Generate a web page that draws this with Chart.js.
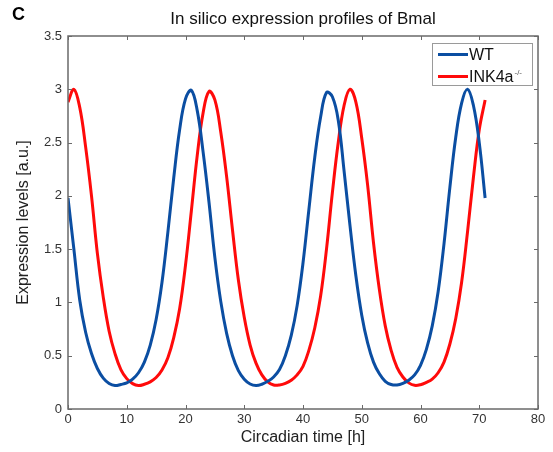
<!DOCTYPE html>
<html>
<head>
<meta charset="utf-8">
<script src="https://cdn.jsdelivr.net/npm/chart.js@4/dist/chart.umd.min.js"></script>
<style>
    html, body { margin: 0; padding: 0; background: #fff; }
    #wrap { width: 553px; height: 452px; position: relative; }
</style>
</head>
<body>
<div id="wrap"><canvas id="bmalChart"></canvas></div>
<script>
// 数据
const hours = [
    0, 1, 2, 3, 4, 5, 6, 7, 8, 9, 10, 11, 12, 13, 14, 15, 16, 17, 18, 19, 20, 21, 22, 23,
    24, 25, 26, 27, 28, 29, 30, 31, 32, 33, 34, 35, 36, 37, 38, 39, 40, 41, 42, 43, 44, 45, 46, 47,
    48, 49, 50, 51, 52, 53, 54, 55, 56, 57, 58, 59, 60, 61, 62, 63, 64, 65, 66, 67, 68, 69, 70, 71
];
const wtValues = [
    1.98, 1.50, 1.02, 0.72, 0.52, 0.38, 0.29, 0.24, 0.22, 0.23, 0.245, 0.28, 0.34, 0.44, 0.60, 0.84,
    1.19, 1.66, 2.17, 2.62, 2.91, 2.99, 2.80, 2.41, 1.94, 1.42, 1.01, 0.71, 0.50, 0.36, 0.28, 0.235,
    0.22, 0.232, 0.26, 0.30, 0.37, 0.50, 0.69, 0.97, 1.37, 1.87, 2.36, 2.74, 2.97, 2.93, 2.71, 2.23,
    1.72, 1.25, 0.88, 0.62, 0.44, 0.33, 0.26, 0.23, 0.225, 0.24, 0.27, 0.32, 0.41, 0.56, 0.78, 1.10,
    1.55, 2.08, 2.55, 2.87, 3.0, 2.85, 2.50, 1.98
];
const inkValues = [
    2.88, 3.0, 2.83, 2.46, 2.00, 1.46, 1.05, 0.73, 0.52, 0.37, 0.285, 0.238, 0.22, 0.232, 0.255, 0.295,
    0.365, 0.48, 0.67, 0.94, 1.35, 1.86, 2.38, 2.78, 2.98, 2.90, 2.60, 2.18, 1.68, 1.21, 0.86, 0.60,
    0.43, 0.32, 0.255, 0.225, 0.225, 0.24, 0.27, 0.32, 0.40, 0.55, 0.76, 1.06, 1.50, 2.03, 2.50, 2.85,
    3.0, 2.88, 2.54, 2.10, 1.56, 1.12, 0.78, 0.55, 0.39, 0.30, 0.245, 0.222, 0.228, 0.25, 0.28, 0.34,
    0.44, 0.61, 0.85, 1.19, 1.66, 2.17, 2.62, 2.90
];
const seriesNames = ['WT', 'INK4a'];
const seriesSup = ['', '-/-'];
const seriesColors = ['#0b4ea2', '#ff0a0a'];
const xTicks = [0, 10, 20, 30, 40, 50, 60, 70, 80];
const yTicks = [0, 0.5, 1, 1.5, 2, 2.5, 3, 3.5];

const FONT = '"Liberation Sans", Arial, Helvetica, sans-serif';
const AXIS_COLOR = '#6a6a6a';

function toPoints(values) {
    return hours.map((h, i) => ({ x: h, y: values[i] }));
}

// 标题、轴标题、内向刻度、边框和图例
const decorPlugin = {
    id: 'decor',
    afterDraw(chart) {
        const ctx = chart.ctx;
        const area = chart.chartArea;
        const xs = chart.scales.x;
        const ys = chart.scales.y;
        ctx.save();

        // 面板标签
        ctx.fillStyle = '#000';
        ctx.font = 'bold 18px ' + FONT;
        ctx.textAlign = 'left';
        ctx.textBaseline = 'middle';
        ctx.fillText('C', 12, 15);

        // 标题
        ctx.fillStyle = '#111';
        ctx.font = '17px ' + FONT;
        ctx.textAlign = 'center';
        ctx.fillText('In silico expression profiles of Bmal', (area.left + area.right) / 2, 19);

        // 轴标题
        ctx.fillStyle = '#222';
        ctx.font = '16px ' + FONT;
        ctx.fillText('Circadian time [h]', (area.left + area.right) / 2, 438);
        ctx.save();
        ctx.translate(24, (area.top + area.bottom) / 2);
        ctx.rotate(-Math.PI / 2);
        ctx.fillText('Expression levels [a.u.]', 0, 0);
        ctx.restore();

        // 边框
        ctx.strokeStyle = AXIS_COLOR;
        ctx.lineWidth = 1.5;
        ctx.strokeRect(area.left, area.top, area.right - area.left, area.bottom - area.top);

        // 内向刻度
        ctx.lineWidth = 1;
        xTicks.forEach(v => {
            const px = Math.round(xs.getPixelForValue(v)) + 0.5;
            ctx.beginPath();
            ctx.moveTo(px, area.bottom);
            ctx.lineTo(px, area.bottom - 4);
            ctx.moveTo(px, area.top);
            ctx.lineTo(px, area.top + 4);
            ctx.stroke();
        });
        yTicks.forEach(v => {
            const py = Math.round(ys.getPixelForValue(v)) + 0.5;
            ctx.beginPath();
            ctx.moveTo(area.left, py);
            ctx.lineTo(area.left + 4, py);
            ctx.moveTo(area.right, py);
            ctx.lineTo(area.right - 4, py);
            ctx.stroke();
        });

        // 图例
        const boxL = 432, boxT = 43.5, boxW = 100, boxH = 42;
        ctx.fillStyle = '#fff';
        ctx.fillRect(boxL, boxT, boxW, boxH);
        ctx.strokeStyle = '#9a9a9a';
        ctx.lineWidth = 1;
        ctx.strokeRect(boxL + 0.5, boxT, boxW, boxH);
        seriesNames.forEach((name, i) => {
            const y = boxT + 11 + i * 22;
            ctx.strokeStyle = seriesColors[i];
            ctx.lineWidth = 3;
            ctx.beginPath();
            ctx.moveTo(boxL + 6, y);
            ctx.lineTo(boxL + 36, y);
            ctx.stroke();
            ctx.fillStyle = '#111';
            ctx.font = '16px ' + FONT;
            ctx.textAlign = 'left';
            ctx.textBaseline = 'middle';
            ctx.fillText(name, boxL + 37, y + 1);
            if (seriesSup[i]) {
                const w = ctx.measureText(name).width;
                ctx.font = '8px ' + FONT;
                ctx.fillStyle = '#555';
                ctx.fillText(seriesSup[i], boxL + 38 + w, y - 4);
            }
        });

        ctx.restore();
    }
};

const chart = new Chart(document.getElementById('bmalChart'), {
    type: 'line',
    data: {
        datasets: [
            {
                label: seriesNames[0],
                data: toPoints(wtValues),
                borderColor: seriesColors[0],
                borderWidth: 3,
                pointRadius: 0,
                tension: 0.4,
                fill: false
            },
            {
                label: seriesNames[1] + seriesSup[1],
                data: toPoints(inkValues),
                borderColor: seriesColors[1],
                borderWidth: 3,
                pointRadius: 0,
                tension: 0.4,
                fill: false
            }
        ]
    },
    options: {
        responsive: true,
        maintainAspectRatio: false,
        animation: false,
        layout: { padding: { top: 36, right: 15, left: 0, bottom: 0 } },
        plugins: {
            legend: { display: false },
            title: { display: false },
            tooltip: { enabled: false }
        },
        scales: {
            x: {
                type: 'linear',
                min: 0,
                max: 80,
                afterBuildTicks: s => { s.ticks = xTicks.map(v => ({ value: v })); },
                afterFit: s => { s.height = 43; },
                grid: { display: false, drawTicks: false },
                border: { display: false },
                ticks: {
                    color: '#333',
                    font: { family: FONT, size: 13 },
                    padding: 3,
                    maxRotation: 0,
                    callback: v => String(v)
                }
            },
            y: {
                min: 0,
                max: 3.5,
                afterBuildTicks: s => { s.ticks = yTicks.map(v => ({ value: v })); },
                afterFit: s => { s.width = 68; },
                grid: { display: false, drawTicks: false },
                border: { display: false },
                ticks: {
                    color: '#333',
                    font: { family: FONT, size: 13 },
                    padding: 6,
                    callback: v => String(v)
                }
            }
        }
    },
    plugins: [decorPlugin]
});
</script>
</body>
</html>
